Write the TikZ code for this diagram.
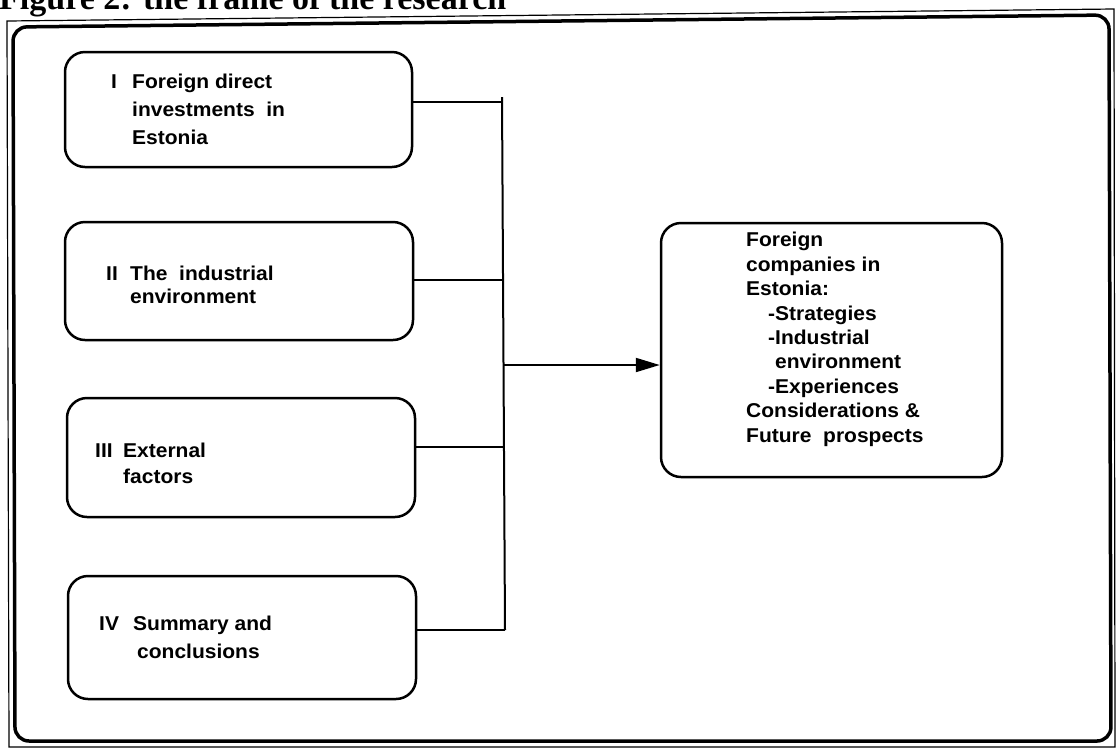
\documentclass[tikz,border=0pt]{standalone}
\usepackage{fontspec}
\usetikzlibrary{arrows.meta}
\newfontfamily\lab[FakeStretch=1.05]{Liberation Sans}
\newfontfamily\ttl{Liberation Serif}
\begin{document}
\begin{tikzpicture}[x=1pt,y=-1pt,
  box/.style={draw, line width=2.5pt, rounded corners=20pt, inner sep=0pt},
  lbl/.style={anchor=base west, inner sep=0pt, font=\lab\bfseries\fontsize{20}{24}\selectfont},
  conn/.style={line width=2pt},
  arr/.style={line width=2pt, -{Triangle[length=24pt,width=14pt]}}]
\useasboundingbox (0,0) rectangle (1116,748);
% title (cut off at top)
\node[anchor=base west, inner sep=0pt, font=\ttl\bfseries\fontsize{34}{40}\selectfont] (title) at (-1,9.5) {Figure 2: the frame of the research};
% outer frame
\draw[line width=1.2pt] (7,21) -- (1114,9) -- (1115,747) -- (9,747) -- cycle;
\draw[line width=3.5pt, rounded corners=14pt] (13,27) -- (1109,15) -- (1111,741) -- (15,741) -- cycle;
% boxes
\node[box, minimum width=347pt, minimum height=115pt] (b1) at (238.5,109.5) {};
\node[box, minimum width=348pt, minimum height=118pt] (b2) at (239,281) {};
\node[box, minimum width=348pt, minimum height=119pt] (b3) at (241,457.5) {};
\node[box, minimum width=348pt, minimum height=123pt] (b4) at (242,637.5) {};
\node[box, minimum width=341pt, minimum height=254pt] (rb) at (831.5,350) {};
% texts box I
\node[lbl] (n1) at (111,88) {I};
\node[lbl] (t1a) at (132,88) {Foreign direct};
\node[lbl] (t1b) at (132,116) {investments\ \ in};
\node[lbl] (t1c) at (132,144) {Estonia};
% box II
\node[lbl] (n2) at (106,280) {II};
\node[lbl] (t2a) at (130,280) {The\ \ industrial};
\node[lbl] (t2b) at (130,303) {environment};
% box III
\node[lbl] (n3) at (95,457) {III};
\node[lbl] (t3a) at (123,457) {External};
\node[lbl] (t3b) at (123,483) {factors};
% box IV
\node[lbl] (n4) at (99,630) {IV};
\node[lbl] (t4a) at (133,630) {Summary and};
\node[lbl] (t4b) at (137,658) {conclusions};
% right box
\node[lbl] (r1) at (746,246) {Foreign};
\node[lbl] (r2) at (746,271) {companies in};
\node[lbl] (r3) at (746,295) {Estonia:};
\node[lbl] (r4) at (768,320) {-Strategies};
\node[lbl] (r5) at (768,344) {-Industrial};
\node[lbl] (r6) at (775,368) {environment};
\node[lbl] (r7) at (768,393) {-Experiences};
\node[lbl] (r8) at (746,417) {Considerations \&};
\node[lbl] (r9) at (746,442) {Future\ \ prospects};
% connectors
\coordinate (jt) at (502,97);
\coordinate (j1) at (502,102);
\coordinate (j2) at (503,280);
\coordinate (ja) at (503,365);
\coordinate (j3) at (504,447);
\coordinate (j4) at (505,630);
\draw[conn] (jt) -- (j4);
\draw[conn] (b1.east |- j1) -- (j1);
\draw[conn] (b2.east |- j2) -- (j2);
\draw[conn] (b3.east |- j3) -- (j3);
\draw[conn] (b4.east |- j4) -- (j4);
\draw[arr] (ja) -- (rb.west |- ja);
\end{tikzpicture}
\end{document}
